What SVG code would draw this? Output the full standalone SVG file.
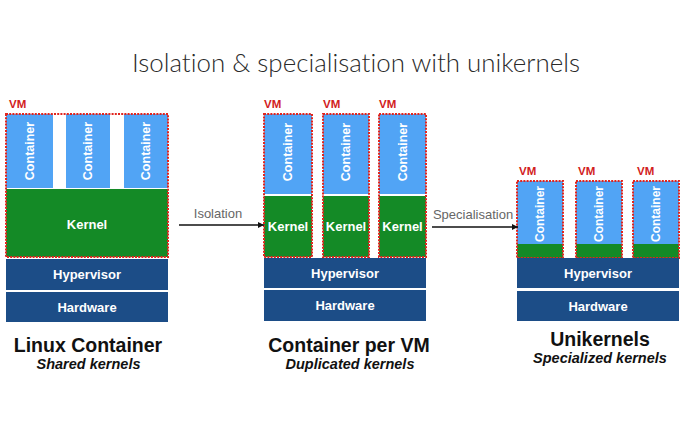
<svg xmlns="http://www.w3.org/2000/svg" width="685" height="425" viewBox="0 0 685 425">
<style>
  .cont { fill: #51a4f5; }
  .kern { fill: #148a26; }
  .hw { fill: #1c4d87; }
  .vm { fill: none; stroke: #e2251e; stroke-width: 2; stroke-dasharray: 2 1.2; }
  .vml { font-family: "Liberation Sans", Arial, sans-serif; font-weight: bold; font-size: 11.5px; fill: #d2211c; }
  .wt { font-family: "Liberation Sans", Arial, sans-serif; font-weight: bold; fill: #ffffff; text-anchor: middle; dominant-baseline: central; }
  .ct { font-size: 12.5px; }
  .kt { font-size: 13px; }
  .arr { stroke: #111; stroke-width: 1.6; fill: none; }
  .al { font-family: "Liberation Sans", Arial, sans-serif; font-size: 13px; fill: #666; }
  .h1 { font-family: "Liberation Sans", Arial, sans-serif; font-weight: bold; font-size: 19.5px; fill: #111; text-anchor: middle; }
  .h2 { font-family: "Liberation Sans", Arial, sans-serif; font-weight: bold; font-style: italic; font-size: 14.5px; fill: #111; text-anchor: middle; }
  .title { font-family: Lato, "Liberation Sans", Arial, sans-serif; font-weight: 300; font-size: 26px; fill: #2a2a2a; font-variant-ligatures: none; }
</style>
<defs>
  <marker id="ah" viewBox="0 0 10 10" refX="10" refY="5" markerWidth="6" markerHeight="6" orient="auto" markerUnits="userSpaceOnUse">
    <path d="M0,0 L10,5 L0,10 z" fill="#111"/>
  </marker>
</defs>
<rect x="0" y="0" width="685" height="425" fill="#ffffff"/>
<text class="title" x="132" y="72" textLength="448" lengthAdjust="spacingAndGlyphs">Isolation &amp; specialisation with unikernels</text>

<!-- Linux Container stack -->
<g id="linux-container">
  <rect class="cont" x="6" y="114" width="47" height="74"/>
  <rect class="cont" x="66" y="114" width="44" height="74"/>
  <rect class="cont" x="124" y="114" width="44" height="74"/>
  <rect class="kern" x="6" y="189" width="162" height="68"/>
  <rect class="vm" x="6" y="114" width="162" height="143"/>
  <text class="vml" x="9" y="108">VM</text>
  <text class="wt ct" transform="translate(30,151) rotate(-90)">Container</text>
  <text class="wt ct" transform="translate(88,151) rotate(-90)">Container</text>
  <text class="wt ct" transform="translate(146,151) rotate(-90)">Container</text>
  <text class="wt kt" x="87" y="224">Kernel</text>
  <rect class="hw" x="6" y="259" width="162" height="31"/>
  <rect class="hw" x="6" y="292" width="162" height="30"/>
  <text class="wt kt" x="87" y="274.5">Hypervisor</text>
  <text class="wt kt" x="87" y="307">Hardware</text>
  <text class="h1" x="88" y="352">Linux Container</text>
  <text class="h2" x="88.5" y="369">Shared kernels</text>
</g>

<!-- Container per VM -->
<g id="container-per-vm">
  <rect class="cont" x="264" y="114" width="48" height="80"/>
  <rect class="kern" x="264" y="196" width="48" height="61"/>
  <rect class="vm" x="264" y="114" width="48" height="143"/>
  <text class="vml" x="264" y="108">VM</text>
  <text class="wt ct" transform="translate(288,152) rotate(-90)">Container</text>
  <text class="wt kt" x="288" y="226.5">Kernel</text>

  <rect class="cont" x="323" y="114" width="46" height="80"/>
  <rect class="kern" x="323" y="196" width="46" height="61"/>
  <rect class="vm" x="323" y="114" width="46" height="143"/>
  <text class="vml" x="323" y="108">VM</text>
  <text class="wt ct" transform="translate(346,152) rotate(-90)">Container</text>
  <text class="wt kt" x="346" y="226.5">Kernel</text>

  <rect class="cont" x="379" y="114" width="47" height="80"/>
  <rect class="kern" x="379" y="196" width="47" height="61"/>
  <rect class="vm" x="379" y="114" width="47" height="143"/>
  <text class="vml" x="379" y="108">VM</text>
  <text class="wt ct" transform="translate(402.5,152) rotate(-90)">Container</text>
  <text class="wt kt" x="402.5" y="226.5">Kernel</text>

  <rect class="hw" x="264" y="258" width="162" height="30"/>
  <rect class="hw" x="264" y="290" width="162" height="31"/>
  <text class="wt kt" x="345" y="273">Hypervisor</text>
  <text class="wt kt" x="345" y="305.5">Hardware</text>
  <text class="h1" x="349" y="352">Container per VM</text>
  <text class="h2" x="350" y="369">Duplicated kernels</text>
</g>

<!-- Unikernels -->
<g id="unikernels">
  <rect class="cont" x="517" y="181" width="46" height="63"/>
  <rect class="kern" x="517" y="244" width="46" height="14"/>
  <rect class="vm" x="517" y="181" width="46" height="77"/>
  <text class="vml" x="519" y="175">VM</text>
  <text class="wt ct" transform="translate(540,214) rotate(-90)" style="font-size:12px">Container</text>

  <rect class="cont" x="576" y="181" width="46" height="63"/>
  <rect class="kern" x="576" y="244" width="46" height="14"/>
  <rect class="vm" x="576" y="181" width="46" height="77"/>
  <text class="vml" x="578" y="175">VM</text>
  <text class="wt ct" transform="translate(599,214) rotate(-90)" style="font-size:12px">Container</text>

  <rect class="cont" x="633" y="181" width="46" height="63"/>
  <rect class="kern" x="633" y="244" width="46" height="14"/>
  <rect class="vm" x="633" y="181" width="46" height="77"/>
  <text class="vml" x="637" y="175">VM</text>
  <text class="wt ct" transform="translate(656,214) rotate(-90)" style="font-size:12px">Container</text>

  <rect class="hw" x="517" y="258" width="162" height="30"/>
  <rect class="hw" x="517" y="291" width="162" height="30"/>
  <text class="wt kt" x="598" y="273.5">Hypervisor</text>
  <text class="wt kt" x="598" y="306">Hardware</text>
  <text class="h1" x="600" y="346">Unikernels</text>
  <text class="h2" x="600" y="363">Specialized kernels</text>
</g>

<!-- Connectors -->
<g id="connectors">
  <line class="arr" x1="179" y1="225" x2="264" y2="225" marker-end="url(#ah)"/>
  <text class="al" x="218" y="218" text-anchor="middle">Isolation</text>
  <line class="arr" x1="432" y1="227" x2="518" y2="227" marker-end="url(#ah)"/>
  <text class="al" x="473" y="219" text-anchor="middle">Specialisation</text>
</g>
</svg>
